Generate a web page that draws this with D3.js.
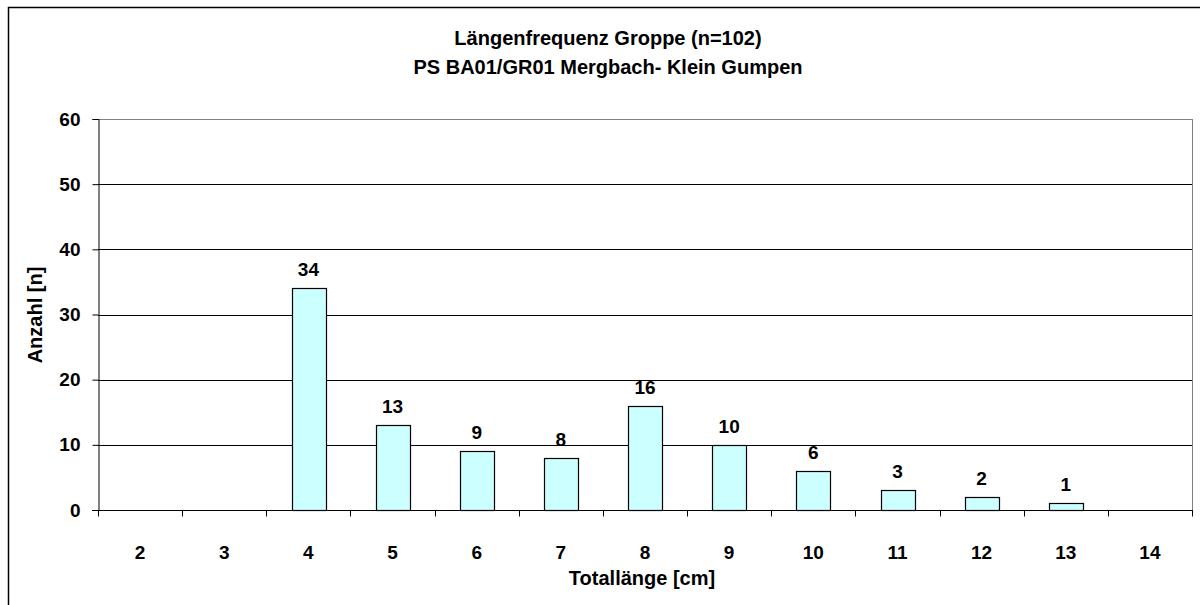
<!DOCTYPE html>
<html>
<head>
<meta charset="utf-8">
<script src="https://cdn.jsdelivr.net/npm/d3@7"></script>
<style>
  body { margin: 0; background: #fff; }
  text { font-family: "Liberation Sans", Arial, sans-serif; font-weight: bold; fill: #000; }
</style>
</head>
<body>
<div id="chart"></div>
<script>
var chart_width  = 1200;
var chart_height = 605;

// data
var categories = ['2', '3', '4', '5', '6', '7', '8', '9', '10', '11', '12', '13', '14'];
var counts     = [0, 0, 34, 13, 9, 8, 16, 10, 6, 3, 2, 1, 0];
var y_ticks    = [0, 10, 20, 30, 40, 50, 60];

var plot = { left: 98, right: 1192, top: 119, bottom: 510 };

var svg = d3.select('#chart')
    .append('svg')
    .attr('width', chart_width)
    .attr('height', chart_height);

// outer frame (runs off the right and bottom edge)
svg.append('rect')
    .attr('x', 8.5).attr('y', 7.5)
    .attr('width', 1300).attr('height', 700)
    .attr('fill', '#fff')
    .attr('stroke', '#000')
    .attr('stroke-width', 1.5);

// titles
svg.append('text')
    .attr('x', 608).attr('y', 45)
    .attr('text-anchor', 'middle')
    .style('font-size', '20px')
    .text('Längenfrequenz Groppe (n=102)');

svg.append('text')
    .attr('x', 608).attr('y', 74)
    .attr('text-anchor', 'middle')
    .style('font-size', '20px')
    .text('PS BA01/GR01 Mergbach- Klein Gumpen');

// scales
var x_scale = d3.scaleBand()
    .domain(categories)
    .range([plot.left, plot.right])
    .padding(0);

var y_scale = d3.scaleLinear()
    .domain([0, 60])
    .range([plot.bottom, plot.top]);

// gridlines
svg.append('g')
    .selectAll('line')
    .data(y_ticks.slice(1))
    .enter()
    .append('line')
    .attr('x1', plot.left)
    .attr('x2', plot.right)
    .attr('y1', d => Math.round(y_scale(d)) + 0.5)
    .attr('y2', d => Math.round(y_scale(d)) + 0.5)
    .attr('stroke', d => d == 60 ? '#808080' : '#000')
    .attr('stroke-width', 1);

// right border of plot area
svg.append('line')
    .attr('x1', plot.right + 0.5).attr('x2', plot.right + 0.5)
    .attr('y1', plot.top).attr('y2', plot.bottom)
    .attr('stroke', '#808080');

// bars
var bar_w = x_scale.bandwidth() * 0.4;
var bars = categories.map((c, i) => ({ cat: c, num: counts[i] }));

svg.append('g')
    .selectAll('rect')
    .data(bars.filter(d => d.num > 0))
    .enter()
    .append('rect')
    .attr('x', d => Math.round(x_scale(d.cat) + (x_scale.bandwidth() - bar_w) / 2) + 0.5)
    .attr('y', d => Math.round(y_scale(d.num)) + 0.5)
    .attr('width', Math.round(bar_w))
    .attr('height', d => Math.round(y_scale(0)) - Math.round(y_scale(d.num)))
    .attr('fill', '#CCFFFF')
    .attr('stroke', '#000')
    .attr('stroke-width', 1.2);

// value labels
svg.append('g')
    .selectAll('text')
    .data(bars.filter(d => d.num > 0))
    .enter()
    .append('text')
    .attr('x', d => x_scale(d.cat) + x_scale.bandwidth() / 2)
    .attr('y', d => y_scale(d.num) - 12)
    .attr('text-anchor', 'middle')
    .style('font-size', '19px')
    .text(d => d.num);

// y axis
var y_axis = d3.axisLeft(y_scale)
    .tickValues(y_ticks)
    .tickSize(6)
    .tickPadding(12);

var gy = svg.append('g')
    .attr('transform', `translate(${plot.left + 0.5}, 0)`)
    .call(y_axis);
gy.selectAll('text').style('font-size', '19px');

// x axis: ticks at category boundaries, labels in the middle
var gx = svg.append('g')
    .attr('transform', `translate(0, ${Math.round(plot.bottom) + 0.5})`);

gx.append('line')
    .attr('x1', plot.left - 6).attr('x2', plot.right + 1)
    .attr('stroke', '#000');

gx.selectAll('.tick')
    .data(categories.concat(['end']))
    .enter()
    .append('line')
    .attr('x1', (d, i) => Math.round(plot.left + i * x_scale.step()) + 0.5)
    .attr('x2', (d, i) => Math.round(plot.left + i * x_scale.step()) + 0.5)
    .attr('y1', 0).attr('y2', 6)
    .attr('stroke', '#000');

gx.selectAll('.lbl')
    .data(categories)
    .enter()
    .append('text')
    .attr('x', d => x_scale(d) + x_scale.bandwidth() / 2)
    .attr('y', 48)
    .attr('text-anchor', 'middle')
    .style('font-size', '19px')
    .text(d => d);

svg.selectAll('.domain').attr('stroke', '#000');
svg.selectAll('.tick line').attr('stroke', '#000');

// axis titles
svg.append('text')
    .attr('x', 642).attr('y', 585)
    .attr('text-anchor', 'middle')
    .style('font-size', '20px')
    .text('Totallänge [cm]');

svg.append('text')
    .attr('transform', 'translate(42, 315) rotate(-90)')
    .attr('text-anchor', 'middle')
    .style('font-size', '20px')
    .text('Anzahl [n]');
</script>
</body>
</html>
